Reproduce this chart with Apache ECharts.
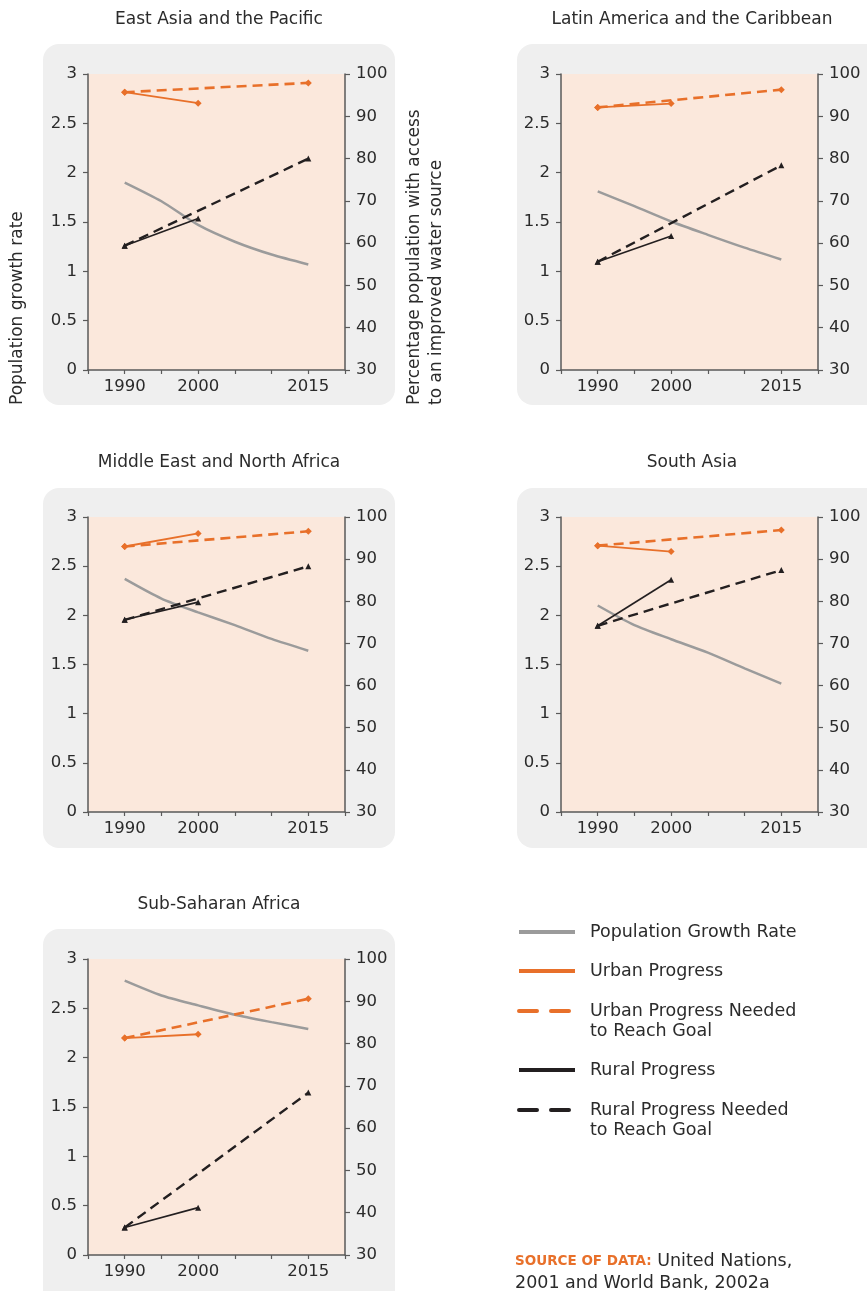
<!DOCTYPE html>
<html>
<head>
<meta charset="utf-8">
<script src="https://cdn.jsdelivr.net/npm/echarts@6/dist/echarts.min.js"></script>
<style>
html,body{margin:0;padding:0;background:#ffffff;}
#chart{width:867px;height:1291px;}
</style>
</head>
<body>
<div id="chart"></div>
<script>
// ---------- data ----------
const regionNames = ['East Asia and the Pacific', 'Latin America and the Caribbean', 'Middle East and North Africa', 'South Asia', 'Sub-Saharan Africa'];
const growthYears = [1990, 1995, 2000, 2005, 2010, 2015];
const progressYears = [1990, 2000];
const goalYears = [1990, 2015];
const xTickLabels = [1990, 2000, 2015];

// population growth rate (left axis)
const growthEAP = [1.90, 1.71, 1.47, 1.30, 1.17, 1.07];
const growthLAC = [1.81, 1.66, 1.505, 1.37, 1.24, 1.12];
const growthMENA = [2.37, 2.17, 2.03, 1.90, 1.76, 1.64];
const growthSA = [2.10, 1.90, 1.757, 1.62, 1.46, 1.305];
const growthSSA = [2.78, 2.63, 2.53, 2.435, 2.36, 2.29];

// urban progress 1990-2000 (right axis, %)
const urbanEAP = [95.7, 93.1];
const urbanLAC = [92.1, 93.0];
const urbanMENA = [93.0, 96.1];
const urbanSA = [93.2, 91.8];
const urbanSSA = [81.3, 82.2];

// urban progress needed 1990-2015
const urbanGoalEAP = [95.7, 97.9];
const urbanGoalLAC = [92.1, 96.3];
const urbanGoalMENA = [93.0, 96.6];
const urbanGoalSA = [93.2, 96.9];
const urbanGoalSSA = [81.3, 90.6];

// rural progress 1990-2000
const ruralEAP = [59.4, 65.8];
const ruralLAC = [55.6, 61.7];
const ruralMENA = [75.6, 79.8];
const ruralSA = [74.2, 85.1];
const ruralSSA = [36.5, 41.2];

// rural progress needed 1990-2015
const ruralGoalEAP = [59.4, 80.0];
const ruralGoalLAC = [55.6, 78.4];
const ruralGoalMENA = [75.6, 88.3];
const ruralGoalSA = [74.2, 87.4];
const ruralGoalSSA = [36.5, 68.4];

const leftTicks = [0, 0.5, 1, 1.5, 2, 2.5, 3];
const rightTicks = [30, 40, 50, 60, 70, 80, 90, 100];

const legendNames = ['Population Growth Rate', 'Urban Progress', 'Urban Progress Needed\nto Reach Goal', 'Rural Progress', 'Rural Progress Needed\nto Reach Goal'];

// ---------- layout / styles ----------
const FONT = '"DejaVu Sans"';
const TXT = '#2b2b2b';
const ORANGE = '#e8702a';
const GREY = '#9b9b9b';
const BLACK = '#231f20';
const AXIS = '#5a5a5a';
const PEACH = '#fbe8dc';
const PANEL = '#efefef';

const panels = [
  {growth: growthEAP, urban: urbanEAP, urbanGoal: urbanGoalEAP, rural: ruralEAP, ruralGoal: ruralGoalEAP,
   grid: {left: 88, top: 74, width: 257, height: 296}, box: [43, 44, 352, 361], title: [219, 20]},
  {growth: growthLAC, urban: urbanLAC, urbanGoal: urbanGoalLAC, rural: ruralLAC, ruralGoal: ruralGoalLAC,
   grid: {left: 561, top: 74, width: 257, height: 296}, box: [517, 44, 380, 361], title: [692, 20]},
  {growth: growthMENA, urban: urbanMENA, urbanGoal: urbanGoalMENA, rural: ruralMENA, ruralGoal: ruralGoalMENA,
   grid: {left: 88, top: 517, width: 257, height: 295}, box: [43, 488, 352, 360], title: [219, 463]},
  {growth: growthSA, urban: urbanSA, urbanGoal: urbanGoalSA, rural: ruralSA, ruralGoal: ruralGoalSA,
   grid: {left: 561, top: 517, width: 257, height: 295}, box: [517, 488, 380, 360], title: [692, 463]},
  {growth: growthSSA, urban: urbanSSA, urbanGoal: urbanGoalSSA, rural: ruralSSA, ruralGoal: ruralGoalSSA,
   grid: {left: 88, top: 959, width: 257, height: 296}, box: [43, 929, 352, 400], title: [219, 905]}
];

const zip = (xs, ys) => xs.map((x, i) => [x, ys[i]]);

const grids = [], xAxes = [], yAxes = [], series = [], graphics = [];

panels.forEach((p, i) => {
  graphics.push({type: 'rect', z: -10, shape: {x: p.box[0], y: p.box[1], width: p.box[2], height: p.box[3], r: 16}, style: {fill: PANEL}});
  graphics.push({type: 'text', x: p.title[0], y: p.title[1], style: {text: regionNames[i], font: '17px ' + FONT, fill: TXT, textAlign: 'center', textVerticalAlign: 'middle'}});

  grids.push(Object.assign({show: true, backgroundColor: PEACH, borderWidth: 0, containLabel: false}, p.grid));
  xAxes.push({
    type: 'value', gridIndex: i, min: 1985, max: 2020, interval: 5,
    axisLine: {show: true, onZero: false, lineStyle: {color: AXIS, width: 1.5}},
    axisTick: {show: true, length: 4, lineStyle: {color: AXIS, width: 1.2}},
    splitLine: {show: false},
    axisLabel: {color: TXT, fontFamily: FONT, fontSize: 16.5, margin: 8, showMinLabel: true, showMaxLabel: true,
      formatter: v => xTickLabels.indexOf(v) >= 0 ? String(v) : ''}
  });
  yAxes.push({
    type: 'value', gridIndex: i, position: 'left', min: leftTicks[0], max: leftTicks[leftTicks.length - 1], interval: 0.5,
    axisLine: {show: true, onZero: false, lineStyle: {color: AXIS, width: 1.5}},
    axisTick: {show: true, length: 5, lineStyle: {color: AXIS, width: 1.2}},
    splitLine: {show: false},
    axisLabel: {color: TXT, fontFamily: FONT, fontSize: 16.5, margin: 11}
  });
  yAxes.push({
    type: 'value', gridIndex: i, position: 'right', min: rightTicks[0], max: rightTicks[rightTicks.length - 1], interval: 10,
    axisLine: {show: true, onZero: false, lineStyle: {color: AXIS, width: 1.5}},
    axisTick: {show: true, length: 5, lineStyle: {color: AXIS, width: 1.2}},
    splitLine: {show: false},
    axisLabel: {color: TXT, fontFamily: FONT, fontSize: 16.5, margin: 11}
  });

  const yl = i * 2, yr = i * 2 + 1;
  series.push({name: 'Population Growth Rate', type: 'line', xAxisIndex: i, yAxisIndex: yl, data: zip(growthYears, p.growth),
    symbol: 'none', smooth: 0.25, lineStyle: {color: GREY, width: 2.5}, z: 2});
  series.push({name: 'Urban Progress Needed to Reach Goal', type: 'line', xAxisIndex: i, yAxisIndex: yr, data: zip(goalYears, p.urbanGoal),
    symbol: 'diamond', symbolSize: 7, itemStyle: {color: ORANGE}, lineStyle: {color: ORANGE, width: 2.6, type: [10, 6]}, z: 3});
  series.push({name: 'Urban Progress', type: 'line', xAxisIndex: i, yAxisIndex: yr, data: zip(progressYears, p.urban),
    symbol: 'diamond', symbolSize: 7, itemStyle: {color: ORANGE}, lineStyle: {color: ORANGE, width: 1.8}, z: 4});
  series.push({name: 'Rural Progress Needed to Reach Goal', type: 'line', xAxisIndex: i, yAxisIndex: yr, data: zip(goalYears, p.ruralGoal),
    symbol: 'triangle', symbolSize: 6, itemStyle: {color: BLACK}, lineStyle: {color: BLACK, width: 2.4, type: [10, 6]}, z: 3});
  series.push({name: 'Rural Progress', type: 'line', xAxisIndex: i, yAxisIndex: yr, data: zip(progressYears, p.rural),
    symbol: 'triangle', symbolSize: 6, itemStyle: {color: BLACK}, lineStyle: {color: BLACK, width: 1.6}, z: 4});
});

// axis names (first panel)
graphics.push({type: 'text', x: 18, y: 405, rotation: Math.PI / 2,
  style: {text: 'Population growth rate', font: '17px ' + FONT, fill: TXT, textAlign: 'left', textVerticalAlign: 'middle'}});
graphics.push({type: 'text', x: 415, y: 405, rotation: Math.PI / 2,
  style: {text: 'Percentage population with access', font: '17px ' + FONT, fill: TXT, textAlign: 'left', textVerticalAlign: 'middle'}});
graphics.push({type: 'text', x: 437, y: 405, rotation: Math.PI / 2,
  style: {text: 'to an improved water source', font: '17px ' + FONT, fill: TXT, textAlign: 'left', textVerticalAlign: 'middle'}});

// legend
const legendStyles = [
  {color: GREY, dash: null, y: 932},
  {color: ORANGE, dash: null, y: 971},
  {color: ORANGE, dash: [18, 14], y: 1011},
  {color: BLACK, dash: null, y: 1070},
  {color: BLACK, dash: [18, 14], y: 1110}
];
legendStyles.forEach((s, k) => {
  graphics.push({type: 'line', shape: {x1: 519, y1: s.y, x2: 575, y2: s.y},
    style: {stroke: s.color, lineWidth: 4, lineDash: s.dash || null, lineCap: s.dash ? 'round' : 'butt'}});
  graphics.push({type: 'text', x: 590, y: s.y - 10,
    style: {text: legendNames[k], font: '17.5px ' + FONT, fill: TXT, textAlign: 'left', textVerticalAlign: 'top', lineHeight: 20}});
});

// source
graphics.push({type: 'text', x: 515, y: 1250,
  style: {text: '{b|SOURCE OF DATA:} United Nations,\n2001 and World Bank, 2002a', fill: TXT, font: '17.5px ' + FONT, lineHeight: 22,
    textAlign: 'left', textVerticalAlign: 'top',
    rich: {b: {fill: ORANGE, font: 'bold 13.5px ' + FONT}}}});

const chart = echarts.init(document.getElementById('chart'), null, {renderer: 'canvas'});
chart.setOption({
  animation: false,
  backgroundColor: '#ffffff',
  grid: grids,
  xAxis: xAxes,
  yAxis: yAxes,
  series: series,
  graphic: graphics
});
</script>
</body>
</html>
